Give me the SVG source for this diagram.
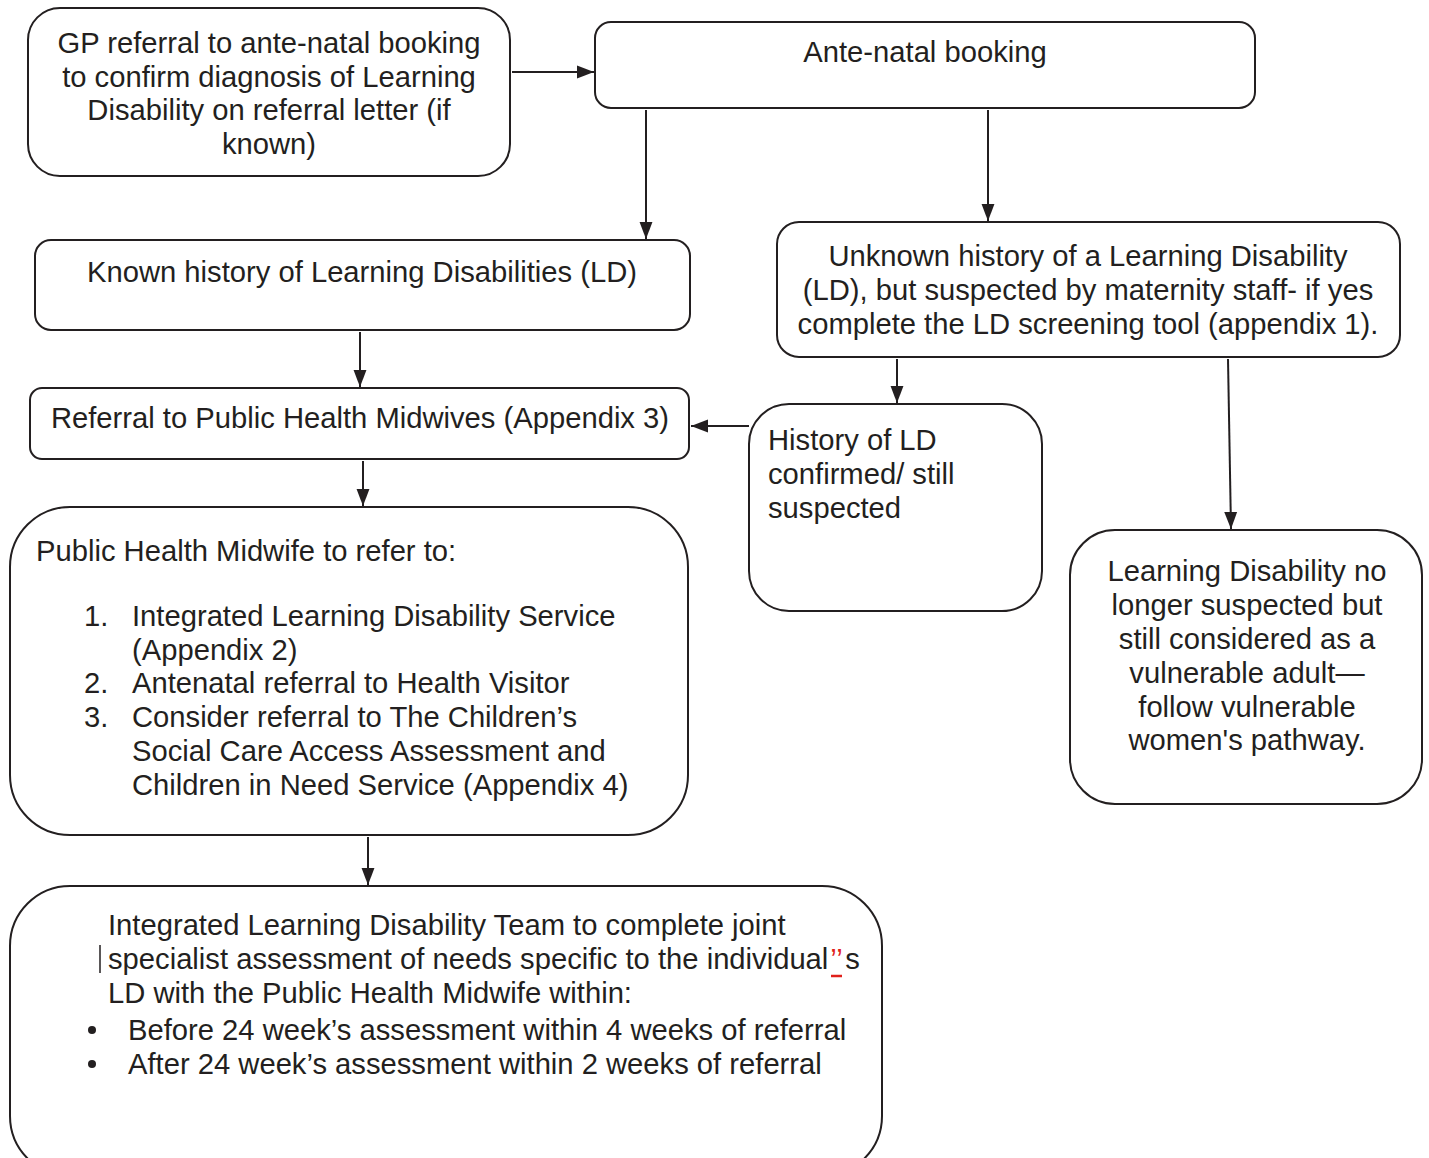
<svg xmlns="http://www.w3.org/2000/svg" width="1429" height="1158" viewBox="0 0 1429 1158">
<style>
.box{fill:#fff;stroke:#231f20;stroke-width:2}
text{font-family:"Liberation Sans",Arial,sans-serif;font-size:29.2px;fill:#231f20}
.c{text-anchor:middle}
.edge{stroke:#231f20;stroke-width:2;fill:none;marker-end:url(#ah)}
</style>
<defs>
<marker id="ah" viewBox="0 0 10 10" refX="10" refY="5" markerWidth="17" markerHeight="17" markerUnits="userSpaceOnUse" orient="auto">
<path d="M0,1.2 L10,5 L0,8.8 z" fill="#231f20"/>
</marker>
</defs>
<rect width="1429" height="1158" fill="#fff"/>
<g id="connectors">
<line x1="512" y1="72" x2="594" y2="72" class="edge"/>
<line x1="646" y1="110" x2="646" y2="239" class="edge"/>
<line x1="988" y1="110" x2="988" y2="221" class="edge"/>
<line x1="360" y1="332" x2="360" y2="387" class="edge"/>
<line x1="749" y1="426" x2="691" y2="426" class="edge"/>
<line x1="897" y1="359" x2="897" y2="403" class="edge"/>
<line x1="1228" y1="359" x2="1231" y2="529" class="edge"/>
<line x1="363" y1="461" x2="363" y2="506" class="edge"/>
<line x1="368" y1="837" x2="368" y2="885" class="edge"/>
</g>
<g id="n1">
<rect class="box" x="28" y="8" width="482" height="168" rx="32"/>
<text class="c" x="269" y="53">GP referral to ante-natal booking</text>
<text class="c" x="269" y="87">to confirm diagnosis of Learning</text>
<text class="c" x="269" y="120">Disability on referral letter (if</text>
<text class="c" x="269" y="154">known)</text>
</g>
<g id="n2">
<rect class="box" x="595" y="22" width="660" height="86" rx="16"/>
<text class="c" x="925" y="62">Ante-natal booking</text>
</g>
<g id="n3">
<rect class="box" x="35" y="240" width="655" height="90" rx="16"/>
<text class="c" x="362" y="282">Known history of Learning Disabilities (LD)</text>
</g>
<g id="n4">
<rect class="box" x="777" y="222" width="623" height="135" rx="22"/>
<text class="c" x="1088" y="266">Unknown history of a Learning Disability</text>
<text class="c" x="1088" y="300">(LD), but suspected by maternity staff- if yes</text>
<text class="c" x="1088" y="334">complete the LD screening tool (appendix 1).</text>
</g>
<g id="n5">
<rect class="box" x="30" y="388" width="659" height="71" rx="12"/>
<text class="c" x="360" y="428">Referral to Public Health Midwives (Appendix 3)</text>
</g>
<g id="n6">
<rect class="box" x="749" y="404" width="293" height="207" rx="40"/>
<text x="768" y="450">History of LD</text>
<text x="768" y="484">confirmed/ still</text>
<text x="768" y="518">suspected</text>
</g>
<g id="n7">
<rect class="box" x="1070" y="530" width="352" height="274" rx="45"/>
<text class="c" x="1247" y="581">Learning Disability no</text>
<text class="c" x="1247" y="615">longer suspected but</text>
<text class="c" x="1247" y="649">still considered as a</text>
<text class="c" x="1247" y="683">vulnerable adult—</text>
<text class="c" x="1247" y="717">follow vulnerable</text>
<text class="c" x="1247" y="750">women's pathway.</text>
</g>
<g id="n8">
<rect class="box" x="10" y="507" width="678" height="328" rx="60"/>
<text x="36" y="561">Public Health Midwife to refer to:</text>
<text x="84" y="626">1.</text>
<text x="132" y="626">Integrated Learning Disability Service</text>
<text x="132" y="660">(Appendix 2)</text>
<text x="84" y="693">2.</text>
<text x="132" y="693">Antenatal referral to Health Visitor</text>
<text x="84" y="727">3.</text>
<text x="132" y="727">Consider referral to The Children’s</text>
<text x="132" y="761">Social Care Access Assessment and</text>
<text x="132" y="795">Children in Need Service (Appendix 4)</text>
</g>
<g id="n9">
<rect class="box" x="10" y="886" width="872" height="290" rx="60"/>
<text x="108" y="935">Integrated Learning Disability Team to complete joint</text>
<line x1="100" y1="945" x2="100" y2="973" stroke="#231f20" stroke-width="1.5"/>
<text x="108" y="969">specialist assessment of needs specific to the individual<tspan fill="#e0201b" dx="2">’’</tspan><tspan dx="3">s</tspan></text>
<line x1="831" y1="976" x2="842" y2="976" stroke="#e0201b" stroke-width="2.5"/>
<text x="108" y="1003">LD with the Public Health Midwife within:</text>
<circle cx="92" cy="1030" r="4" fill="#231f20"/>
<text x="128" y="1040">Before 24 week’s assessment within 4 weeks of referral</text>
<circle cx="92" cy="1064" r="4" fill="#231f20"/>
<text x="128" y="1074">After 24 week’s assessment within 2 weeks of referral</text>
</g>
</svg>
